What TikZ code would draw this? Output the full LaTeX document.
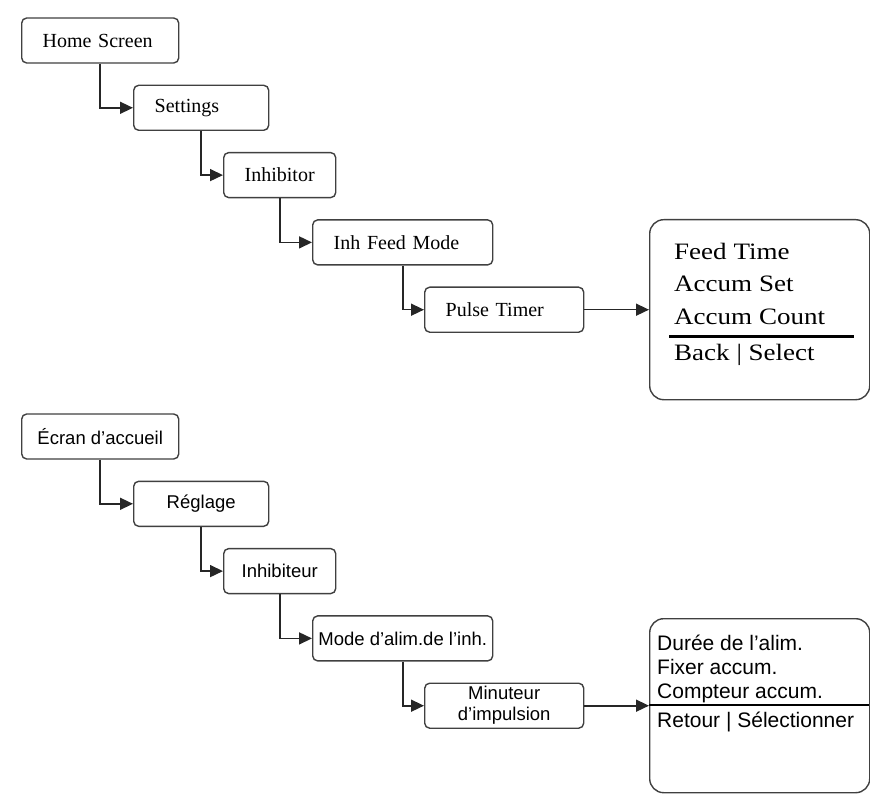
\documentclass[tikz,border=0pt]{standalone}
\usepackage{fontspec}
\setmainfont{Liberation Serif}
\newfontfamily\arialfont{Liberation Sans}
\newfontfamily\ecranfont{Liberation Serif}[FakeStretch=1.15]
\usepackage{xcolor}
\usepackage{tikz}
\usetikzlibrary{arrows.meta}

\begin{document}
\begin{tikzpicture}[x=1pt,y=-1pt]
% Styles
\tikzstyle{fleche}=[-{Triangle[length=13pt,width=12pt]},line width=1.6pt,draw=black!85]
\tikzstyle{boite}=[draw=black!75,line width=1.4pt,rounded corners=5pt,fill=white,minimum height=45pt,anchor=west,inner ysep=0pt]
\tikzstyle{boiteEN}=[boite,font=\fontsize{20}{22}\selectfont,align=left,inner xsep=21pt]
\tikzstyle{boiteFR}=[boite,font=\arialfont\fontsize{18.5}{21}\selectfont,align=center,inner xsep=0pt]
\tikzstyle{ecran}=[draw=black!75,line width=1.4pt,rounded corners=14pt,anchor=west,minimum width=220pt]
\tikzstyle{ligneEN}=[font=\ecranfont\fontsize{23.5}{32}\selectfont,inner sep=0pt,anchor=base west]
\tikzstyle{ligneFR}=[font=\arialfont\fontsize{21}{24}\selectfont,inner sep=0pt,anchor=base west]
% Dimensions
\def\DistanceInterNiveaux{67.3}
\def\HautEN{40.5}
\def\HautFR{436.5}
\def\ColonneA{21}
\def\ColonneB{133}
\def\ColonneC{223}
\def\ColonneD{312}
\def\ColonneE{424}
\def\ColonneF{649}
% Dimensions calculees
\def\NiveauA{(0)*\DistanceInterNiveaux}
\def\NiveauB{(1)*\DistanceInterNiveaux}
\def\NiveauC{(2)*\DistanceInterNiveaux}
\def\NiveauD{(3)*\DistanceInterNiveaux}
\def\NiveauE{(4)*\DistanceInterNiveaux}
\useasboundingbox (0,0) rectangle (870,794);
% Noeuds (anglais)
\node[boiteEN,text width=115pt] (E) at ({\ColonneA},{\HautEN+\NiveauA}) {Home Screen};
\node[boiteEN,text width=93pt] (Ea) at ({\ColonneB},{\HautEN+\NiveauB}) {Settings};
\node[boiteEN,text width=70pt] (Eaa) at ({\ColonneC},{\HautEN+\NiveauC}) {Inhibitor};
\node[boiteEN,text width=138pt] (Eaaa) at ({\ColonneD},{\HautEN+\NiveauD}) {Inh Feed Mode};
\node[boiteEN,text width=117pt] (Eaaaa) at ({\ColonneE},{\HautEN+\NiveauE}) {Pulse Timer};
\node[ecran,minimum height=180pt] (Eaaaaa) at ({\ColonneF},{\HautEN+\NiveauE}) {};
\node[ligneEN] (Eaaaaa1) at (674,260) {Feed Time};
\node[ligneEN] (Eaaaaa2) at (674,292) {Accum Set};
\node[ligneEN] (Eaaaaa3) at (674,324) {Accum Count};
\node[ligneEN] (Eaaaaa4) at (674,360) {Back | Select};
\draw[line width=3pt] (669,336) -- (854,336);
% Noeuds (francais)
\node[boiteFR,minimum width=157pt] (F) at ({\ColonneA},{\HautFR+\NiveauA}) {Écran d’accueil};
\node[boiteFR,minimum width=135pt] (Fa) at ({\ColonneB},{\HautFR+\NiveauB}) {Réglage};
\node[boiteFR,minimum width=112pt] (Faa) at ({\ColonneC},{\HautFR+\NiveauC}) {Inhibiteur};
\node[boiteFR,minimum width=180pt] (Faaa) at ({\ColonneD},{\HautFR+\NiveauD}) {Mode d’alim.de l’inh.};
\node[boiteFR,minimum width=159pt] (Faaaa) at ({\ColonneE},{\HautFR+\NiveauE}) {Minuteur\\d’impulsion};
\node[ecran,minimum height=174pt] (Faaaaa) at ({\ColonneF},{\HautFR+\NiveauE}) {};
\node[ligneFR] (Faaaaa1) at (657,650) {Durée de l’alim.};
\node[ligneFR] (Faaaaa2) at (657,674) {Fixer accum.};
\node[ligneFR] (Faaaaa3) at (657,698) {Compteur accum.};
\node[ligneFR] (Faaaaa4) at (657,727) {Retour | Sélectionner};
\draw[line width=2pt] (649,705) -- (869,705);
% Arcs
\draw[fleche] (E.south) |- (Ea.west);
\draw[fleche] (Ea.south) |- (Eaa.west);
\draw[fleche] (Eaa.south) |- (Eaaa.west);
\draw[fleche] (Eaaa.south) |- (Eaaaa.west);
\draw[fleche] (Eaaaa.east) -- (Eaaaaa.west);
\draw[fleche] (F.south) |- (Fa.west);
\draw[fleche] (Fa.south) |- (Faa.west);
\draw[fleche] (Faa.south) |- (Faaa.west);
\draw[fleche] (Faaa.south) |- (Faaaa.west);
\draw[fleche] (Faaaa.east) -- (Faaaaa.west);
\end{tikzpicture}
\end{document}
